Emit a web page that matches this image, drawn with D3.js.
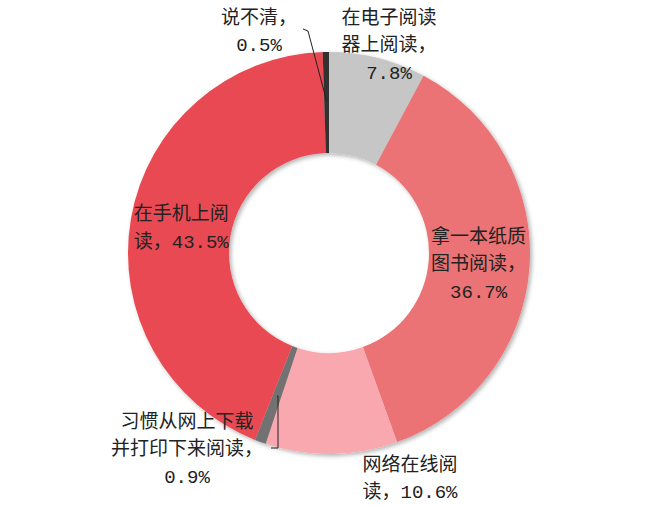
<!DOCTYPE html>
<html>
<head>
<meta charset="utf-8">
<script src="https://cdn.jsdelivr.net/npm/d3@7"></script>
<style>
body { margin: 0; background: #fff; }
svg text { font-family: "Liberation Mono", "Noto Sans CJK SC", sans-serif; font-size: 19px; fill: #222; }
</style>
</head>
<body>
<svg></svg>
<script>
// 数据（顺时针，从12点方向开始）
var categories = ["在电子阅读器上阅读", "拿一本纸质图书阅读", "网络在线阅读", "习惯从网上下载并打印下来阅读", "在手机上阅读", "说不清"]
var values = [7.8, 36.7, 10.6, 0.9, 43.5, 0.5]
var labelLines = [
    ["在电子阅读", "器上阅读，", "7.8%"],
    ["拿一本纸质", "图书阅读，", "36.7%"],
    ["网络在线阅", "读，10.6%"],
    ["习惯从网上下载", "并打印下来阅读，", "0.9%"],
    ["在手机上阅", "读，43.5%"],
    ["说不清，", "0.5%"]
]
var colors = ["#C6C6C6", "#EB7374", "#F8A8AE", "#727272", "#E84A52", "#333333"]

var screen = {width: 660, height: 506}
var center = {x: 329, y: 253}
var outerR = 201, innerR = 100

// 标签位置：null 表示放在扇区中心
var labelPos = [
    {x: 389, y: 17},
    null,
    {x: 410, y: 464},
    {x: 187, y: 421},
    null,
    {x: 259, y: 17}
]
// 引导线的折点（标签一侧）
var leaders = [
    null, null, null,
    [[278, 396], [278, 448], [271, 448]],
    null,
    [[308, 31], [303, 29]]
]

var svg = d3.select("svg")
    .attr("width", screen.width)
    .attr("height", screen.height)

var defs = svg.append("defs")
var shadow = defs.append("filter")
    .attr("id", "shadow")
    .attr("x", "-10%").attr("y", "-10%")
    .attr("width", "120%").attr("height", "120%")
shadow.append("feDropShadow")
    .attr("dx", 2).attr("dy", 2)
    .attr("stdDeviation", 2)
    .attr("flood-color", "#000")
    .attr("flood-opacity", 0.3)

var pie = d3.pie().sort(null).value(function(d) { return d })
var arcs = pie(values)

var arc = d3.arc().innerRadius(innerR).outerRadius(outerR)
var labelArc = d3.arc().innerRadius(150).outerRadius(150)
var leaderArc = d3.arc().innerRadius(152).outerRadius(152)

var g = svg.append("g")
    .attr("transform", "translate(" + center.x + "," + center.y + ")")

g.append("g")
    .attr("filter", "url(#shadow)")
    .selectAll("path")
    .data(arcs)
    .enter()
    .append("path")
    .attr("d", arc)
    .attr("fill", function(d, i) { return colors[i] })

// 引导线
g.selectAll(".leader")
    .data(arcs.filter(function(d, i) { return leaders[i] }))
    .enter()
    .append("polyline")
    .attr("class", "leader")
    .attr("fill", "none")
    .attr("stroke", "#222")
    .attr("stroke-width", 1)
    .attr("points", function(d) {
        var start = leaderArc.centroid(d)
        var pts = [start].concat(leaders[d.index].map(function(p) {
            return [p[0] - center.x, p[1] - center.y]
        }))
        return pts.map(function(p) { return p.join(",") }).join(" ")
    })

// 标签
var lineH = 27.5
var labels = g.selectAll(".label")
    .data(arcs)
    .enter()
    .append("text")
    .attr("class", "label")
    .attr("text-anchor", "middle")
    .attr("transform", function(d, i) {
        var p
        if (labelPos[i]) {
            p = [labelPos[i].x - center.x, labelPos[i].y - center.y]
        } else {
            var c = labelArc.centroid(d)
            p = [c[0], c[1] - (labelLines[i].length - 1) * lineH / 2]
        }
        return "translate(" + p[0] + "," + p[1] + ")"
    })

labels.selectAll("tspan")
    .data(function(d, i) { return labelLines[i] })
    .enter()
    .append("tspan")
    .attr("x", 0)
    .attr("y", function(t, j) { return j * lineH })
    .attr("dy", "0.35em")
    .text(function(t) { return t })
</script>
</body>
</html>
